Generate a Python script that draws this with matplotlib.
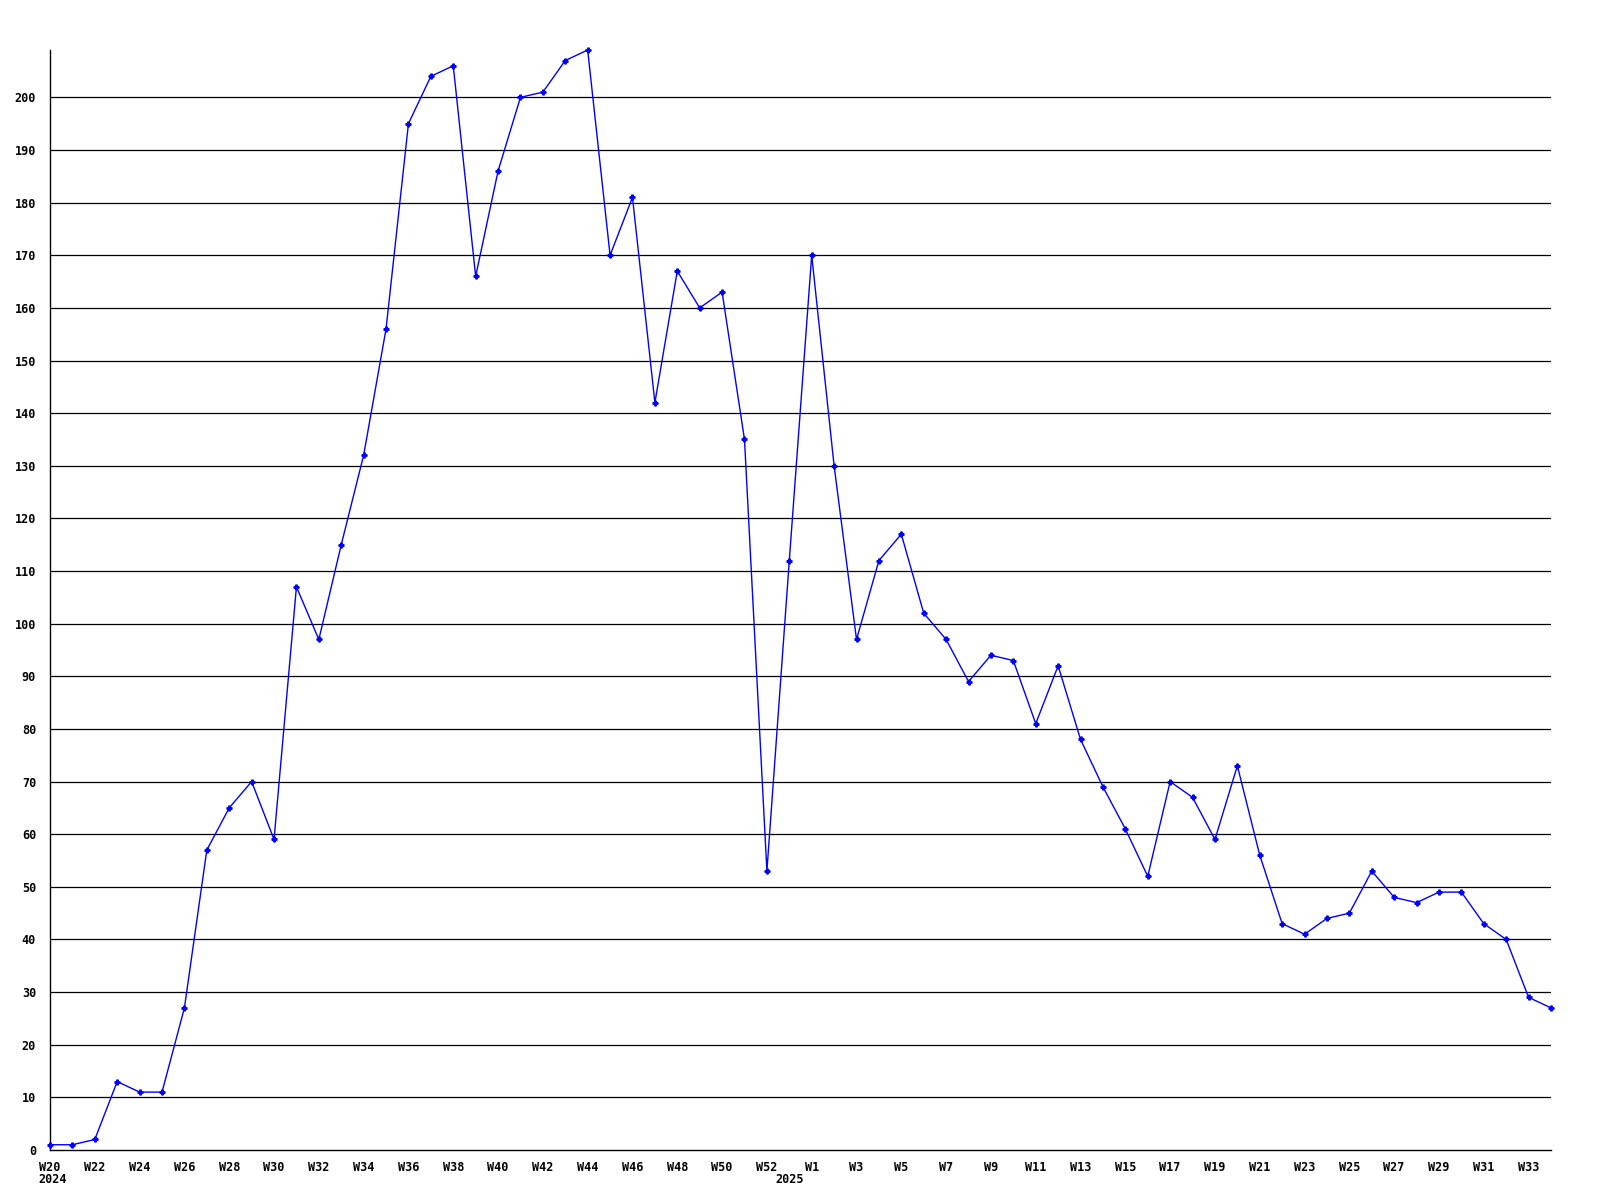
import matplotlib
matplotlib.use("Agg")
import matplotlib.pyplot as plt

# Weekly values W20 2024 .. W53 2024, W1 2025 .. W34 2025
weeks_2024 = list(range(20, 54))
weeks_2025 = list(range(1, 35))
values_2024 = [1, 1, 2, 13, 11, 11, 27, 57, 65, 70, 59, 107, 97, 115, 132, 156,
               195, 204, 206, 166, 186, 200, 201, 207, 209, 170, 181, 142, 167,
               160, 163, 135, 53, 112]
values_2025 = [170, 130, 97, 112, 117, 102, 97, 89, 94, 93, 81, 92, 78, 69, 61,
               52, 70, 67, 59, 73, 56, 43, 41, 44, 45, 53, 48, 47, 49, 49, 43,
               40, 29, 27]
y_ticks = list(range(0, 201, 10))
year_labels = ["2024", "2025"]

labels = [f"W{w}" for w in weeks_2024] + [f"W{w}" for w in weeks_2025]
values = values_2024 + values_2025
x = list(range(len(values)))

font = "DejaVu Sans Mono"
fs = 8.5
fig = plt.figure(figsize=(16, 12), dpi=100)
fig.patch.set_facecolor("white")
ax = fig.add_axes([50 / 1600, 50 / 1200, 1501 / 1600, 1100 / 1200])

for yv in y_ticks[1:]:
    ax.axhline(yv, color="black", lw=0.9, zorder=1)

ax.plot(x, values, color="#0000ff", lw=1.0, marker="P", ms=3.5,
        mec="#0000ff", mfc="#0000ff", zorder=3, clip_on=False)

ax.set_xlim(0, len(values) - 1)
ax.set_ylim(0, max(values))

n24 = len(weeks_2024)
tick_pos = []
tick_lab = []
for i, lab in enumerate(labels):
    if lab == "W53":
        continue
    if (i < n24 and i % 2 == 0) or (i >= n24 and (i - n24) % 2 == 0):
        tick_pos.append(i)
        tick_lab.append(lab)
ax.set_xticks(tick_pos)
ax.set_xticklabels(tick_lab, fontfamily=font, fontweight="bold", fontsize=fs)
ax.set_yticks(y_ticks)
ax.set_yticklabels([str(v) for v in y_ticks], fontfamily=font,
                   fontweight="bold", fontsize=fs)
ax.tick_params(axis="both", length=0)
ax.tick_params(axis="x", pad=8)
ax.tick_params(axis="y", pad=10)

# year labels under the axis
for xpos, ylab in zip([0.1, n24 - 1], year_labels):
    ax.annotate(ylab, xy=(xpos, 0), xycoords=("data", "axes fraction"),
                xytext=(0, -16.5), textcoords="offset points",
                ha="center", va="top", fontfamily=font, fontweight="bold",
                fontsize=fs, annotation_clip=False)

for s in ["top", "right"]:
    ax.spines[s].set_visible(False)
for s in ["left", "bottom"]:
    ax.spines[s].set_color("black")
    ax.spines[s].set_linewidth(1.0)

fig.savefig("out.png", dpi=100, facecolor="white")
